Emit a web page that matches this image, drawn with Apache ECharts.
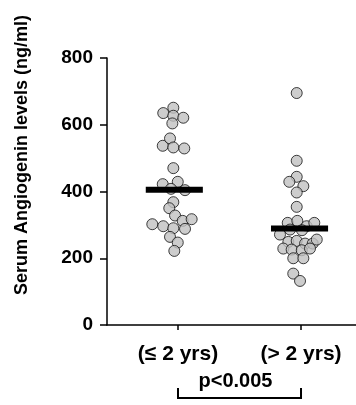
<!DOCTYPE html>
<html>
<head>
<meta charset="utf-8">
<script src="https://cdn.jsdelivr.net/npm/echarts@6/dist/echarts.min.js"></script>
<style>html,body{margin:0;padding:0;background:#fff}#c{width:356px;height:405px}</style>
</head>
<body>
<div id="c"></div>
<script>
// categories and tick labels
const categories = ['(\u2264 2 yrs)', '(> 2 yrs)'];
const yTicks = [0, 200, 400, 600, 800];
const yTitle = 'Serum Angiogenin levels (ng/ml)';
const pText = 'p<0.005';
// individual values, [jittered x (category position), ng/ml]
const young = [
  [0.880,635],[0.962,651],[0.962,627],[1.043,621],[0.954,604],
  [0.876,537],[0.935,559],[0.962,532],[1.051,529],
  [0.962,470],
  [0.876,422],[0.998,429],[0.943,408],[1.057,404],
  [0.962,368],[0.929,350],[0.976,328],[1.038,312],[1.111,317],
  [0.791,302],[0.880,296],[0.962,290],[1.057,288],
  [0.935,264],[0.998,247],[0.970,222]
];
const old = [
  [1.965,695],[1.965,492],[1.965,444],[1.905,429],[2.019,416],[1.965,397],[1.965,354],
  [1.892,306],[1.970,312],[2.046,296],[2.108,306],
  [1.911,286],[2.008,284],
  [1.829,271],[1.897,249],[1.965,252],[2.033,244],[2.095,244],[2.128,256],
  [1.856,229],[1.924,226],[2.006,224],[2.073,229],
  [1.937,200],[2.019,200],
  [1.937,154],[1.992,132]
];
// group means (horizontal bars)
const means = [405, 289];
const meanCenters = [0.97, 1.988];

const FONT = '"Liberation Sans", Arial, Helvetica, sans-serif';
const HALF = 0.232;
const chart = echarts.init(document.getElementById('c'));

const meanSeries = means.map((m, i) => ({
  type: 'line', z: 5, symbol: 'none', silent: true,
  lineStyle: { color: '#000', width: 6, cap: 'butt' },
  data: [[meanCenters[i] - HALF, m], [meanCenters[i] + HALF, m]]
}));

const dotStyle = { color: '#c0c0c0', borderColor: '#111', borderWidth: 1 };

chart.setOption({
  animation: false,
  grid: { left: 107, right: 0, top: 58, bottom: 80 },
  xAxis: {
    type: 'value', min: 0.4228, max: 2.447,
    axisLine: { show: true, lineStyle: { color: '#000', width: 1.5 } },
    axisTick: { show: true, length: 5, lineStyle: { color: '#000', width: 1.5 }, customValues: [1, 2] },
    axisLabel: {
      customValues: [1, 2], margin: 19,
      formatter: v => categories[Math.round(v) - 1],
      color: '#000', fontFamily: FONT, fontWeight: 'bold', fontSize: 21
    },
    splitLine: { show: false }
  },
  yAxis: {
    type: 'value', min: 0, max: 800, interval: 200,
    axisLine: { show: true, lineStyle: { color: '#000', width: 1.5 } },
    axisTick: { show: true, length: 7, lineStyle: { color: '#000', width: 1.5 } },
    axisLabel: {
      margin: 14, color: '#000', fontFamily: FONT, fontWeight: 'bold', fontSize: 19,
      formatter: v => (yTicks.indexOf(v) >= 0 ? String(v) : '')
    },
    splitLine: { show: false }
  },
  series: [
    { type: 'scatter', symbol: 'circle', symbolSize: 11, itemStyle: dotStyle, data: young, z: 3 },
    { type: 'scatter', symbol: 'circle', symbolSize: 11, itemStyle: dotStyle, data: old, z: 3 },
    ...meanSeries
  ]
});

const x1 = chart.convertToPixel({ xAxisIndex: 0 }, 1);
const x2 = chart.convertToPixel({ xAxisIndex: 0 }, 2);
chart.setOption({
  graphic: [
    {
      type: 'text', x: 22, y: 155, rotation: Math.PI / 2,
      style: { text: yTitle, fill: '#000', font: 'bold 18px ' + FONT, align: 'center', verticalAlign: 'middle' }
    },
    {
      type: 'text', x: (x1 + x2) / 2 - 4, y: 381,
      style: { text: pText, fill: '#000', font: 'bold 20px ' + FONT, align: 'center', verticalAlign: 'middle' }
    },
    {
      type: 'polyline',
      shape: { points: [[x1, 388], [x1, 398], [x2, 398], [x2, 388]] },
      style: { stroke: '#000', lineWidth: 2, fill: null }
    }
  ]
});
</script>
</body>
</html>
